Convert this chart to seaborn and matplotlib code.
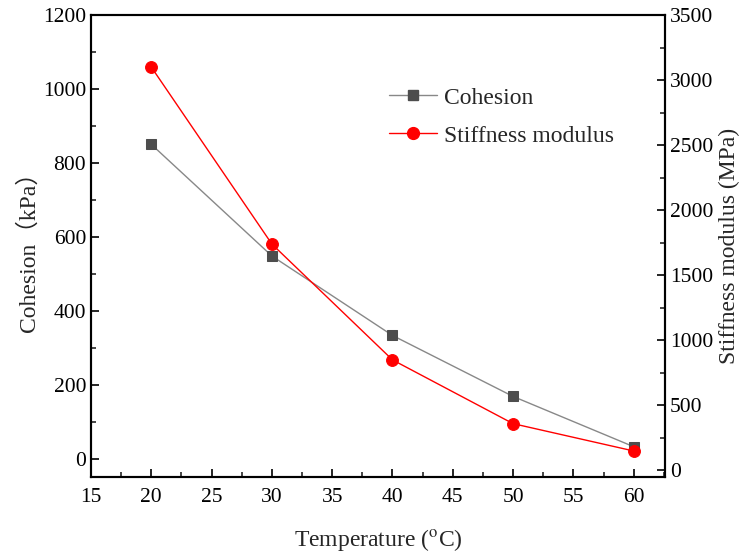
import matplotlib
matplotlib.use("Agg")
import matplotlib.pyplot as plt
import seaborn as sns
import pandas as pd
from matplotlib.ticker import MultipleLocator
from matplotlib.lines import Line2D

temperature = [20, 30, 40, 50, 60]
cohesion = [850, 548, 333, 168, 32]
stiffness = [3100, 1740, 850, 360, 150]

sns.set_style("ticks")
plt.rcParams['font.family'] = ['Liberation Serif', 'Noto Sans CJK SC', 'DejaVu Sans']
plt.rcParams['mathtext.fontset'] = 'stix'

df = pd.DataFrame({"Temperature": temperature, "Cohesion": cohesion, "Stiffness": stiffness})

fig = plt.figure(figsize=(7.49, 5.56), dpi=100)
ax = fig.add_axes([91/749, 1-477/556, (665-91)/749, (477-15)/556])
ax2 = ax.twinx()

sns.lineplot(data=df, x="Temperature", y="Cohesion", ax=ax, color="#888888", lw=1,
             marker="s", markersize=7, markerfacecolor="#4d4d4d", markeredgecolor="#4d4d4d")
sns.lineplot(data=df, x="Temperature", y="Stiffness", ax=ax2, color="#ff0000", lw=1,
             marker="o", markersize=8.5, markerfacecolor="#ff0000", markeredgecolor="#ff0000")

ax.set_xlim(15, 62.6)
ax.set_ylim(-50, 1200)
ax2.set_ylim(-50, 3500)

ax.xaxis.set_major_locator(MultipleLocator(5))
ax.xaxis.set_minor_locator(MultipleLocator(2.5))
ax.yaxis.set_major_locator(MultipleLocator(200))
ax.yaxis.set_minor_locator(MultipleLocator(100))
ax2.yaxis.set_major_locator(MultipleLocator(500))
ax2.yaxis.set_minor_locator(MultipleLocator(250))

for a in (ax, ax2):
    for s in a.spines.values():
        s.set_linewidth(1.5)
        s.set_color("black")
    a.tick_params(which="major", direction="in", length=6, width=1.2, labelsize=15.5, colors="black")
    a.tick_params(which="minor", direction="in", length=3.5, width=1.2)
ax.tick_params(axis="x", pad=8)

ax.set_xlabel("Temperature ($^{\\rm o}$C)", fontsize=17, labelpad=14)
ax.set_ylabel("Cohesion（kPa）", fontsize=17, labelpad=2)
ax2.set_ylabel("Stiffness modulus (MPa)", fontsize=17, labelpad=4)

handles = [
    Line2D([], [], color="#888888", lw=1, marker="s", markersize=7,
           markerfacecolor="#4d4d4d", markeredgecolor="#4d4d4d"),
    Line2D([], [], color="#ff0000", lw=1, marker="o", markersize=8.5,
           markerfacecolor="#ff0000", markeredgecolor="#ff0000"),
]
ax2.legend(handles, ["Cohesion", "Stiffness modulus"], loc="upper left",
           bbox_to_anchor=(0.483, 0.89), frameon=False, fontsize=17,
           handlelength=2.0, handletextpad=0.3, labelspacing=0.7)

fig.savefig("out.png", dpi=100)
